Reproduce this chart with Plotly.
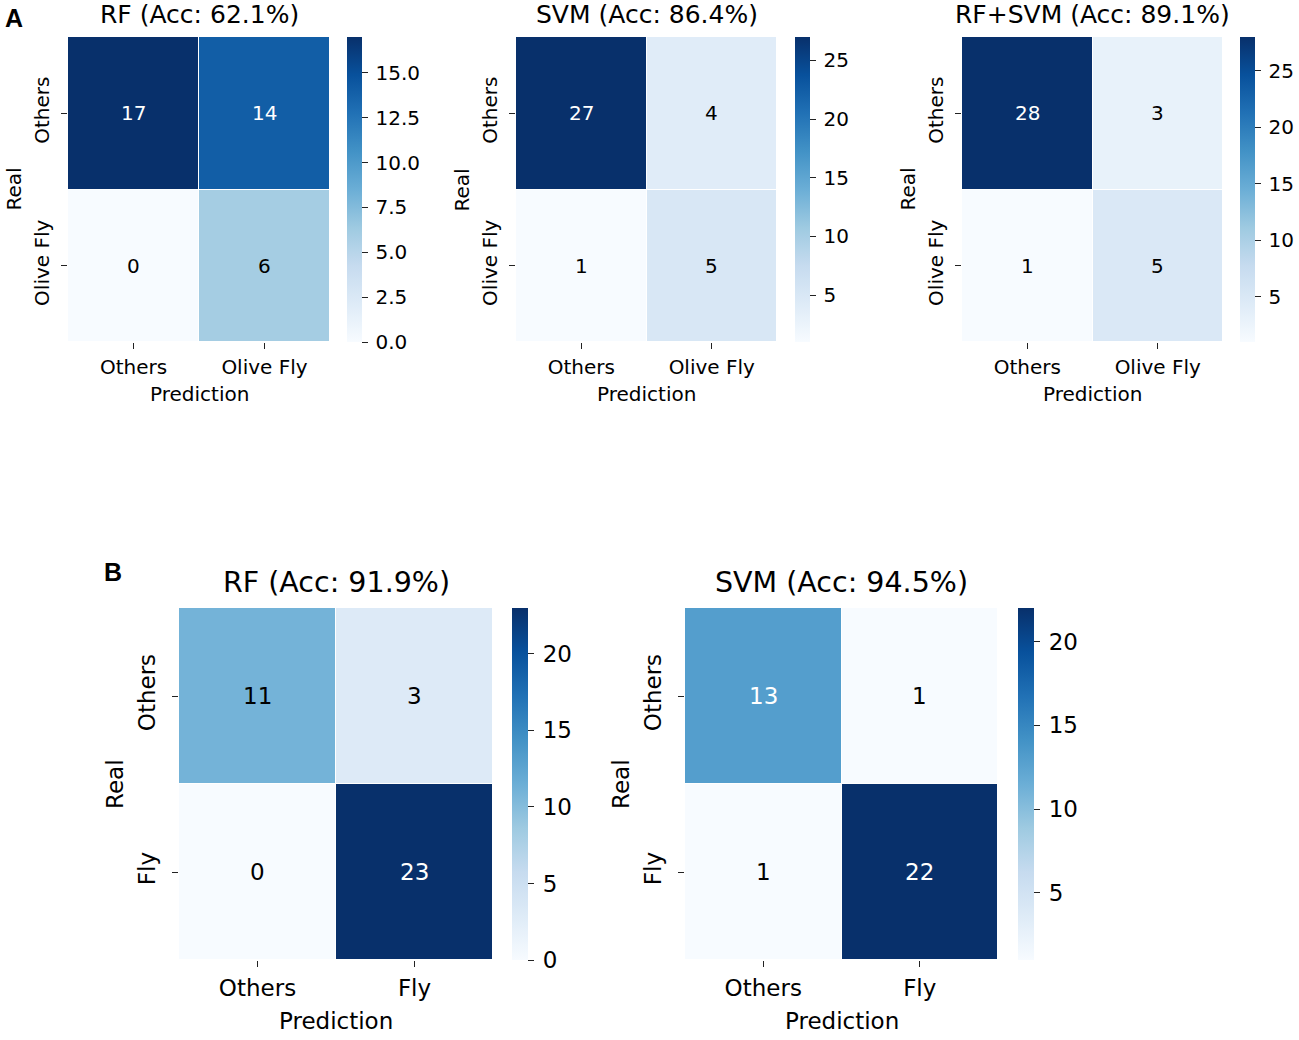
import plotly.graph_objects as go

W, H = 1299, 1040

# ---------------- data ----------------
labels_a = ["Others", "Olive Fly"]
labels_b = ["Others", "Fly"]

a_rf = [[17, 14], [0, 6]]
a_svm = [[27, 4], [1, 5]]
a_rfsvm = [[28, 3], [1, 5]]
b_rf = [[11, 3], [0, 23]]
b_svm = [[13, 1], [1, 22]]

titles = ["RF (Acc: 62.1%)", "SVM (Acc: 86.4%)", "RF+SVM (Acc: 89.1%)",
          "RF (Acc: 91.9%)", "SVM (Acc: 94.5%)"]
cb_dticks = [2.5, 5, 5, 5, 5]

blues = ['rgb(247,251,255)', 'rgb(222,235,247)', 'rgb(198,219,239)',
         'rgb(158,202,225)', 'rgb(107,174,214)', 'rgb(66,146,198)',
         'rgb(33,113,181)', 'rgb(8,81,156)', 'rgb(8,48,107)']
colorscale = [[i / (len(blues) - 1), c] for i, c in enumerate(blues)]

FONT = "DejaVu Sans"

# layout spec in window pixels: heatmap box, colorbar left/thickness, font sizes
panels = [
    dict(z=a_rf, lab=labels_a, x0=68, x1=330, y0=37, y1=342, cbx=347, cbw=15,
         fs=20, tfs=25, ty=15, realx=13, predy=394, cbfmt=".1f", ysoff=4),
    dict(z=a_svm, lab=labels_a, x0=516, x1=777, y0=37, y1=342, cbx=795, cbw=15,
         fs=20, tfs=25, ty=15, realx=461, predy=394, cbfmt="d", ysoff=4),
    dict(z=a_rfsvm, lab=labels_a, x0=962, x1=1223, y0=37, y1=342, cbx=1240, cbw=15,
         fs=20, tfs=25, ty=15, realx=907, predy=394, cbfmt="d", ysoff=4),
    dict(z=b_rf, lab=labels_b, x0=179, x1=493, y0=608, y1=960, cbx=512, cbw=16,
         fs=23, tfs=28.5, ty=582, realx=115, predy=1021, cbfmt="d", ysoff=8),
    dict(z=b_svm, lab=labels_b, x0=685, x1=998, y0=608, y1=960, cbx=1018, cbw=16,
         fs=23, tfs=28.5, ty=582, realx=621, predy=1021, cbfmt="d", ysoff=8),
]


def px(p):
    return p / W


def py(p):
    return 1 - p / H


fig = go.Figure()
annotations = []
layout = {}

for i, p in enumerate(panels):
    k = "" if i == 0 else str(i + 1)
    z = p["z"]
    zmin = min(min(r) for r in z)
    zmax = max(max(r) for r in z)
    fig.add_trace(go.Heatmap(
        z=z, x=p["lab"], y=p["lab"], xaxis="x" + k, yaxis="y" + k,
        colorscale=colorscale, zmin=zmin, zmax=zmax, xgap=1, ygap=1,
        hoverinfo="skip",
        colorbar=dict(
            x=px(p["cbx"]), xanchor="left", xref="paper",
            y=py((p["y0"] + p["y1"]) / 2), yanchor="middle", yref="paper",
            len=p["y1"] - p["y0"], lenmode="pixels",
            thickness=p["cbw"], thicknessmode="pixels",
            outlinewidth=0, ticks="outside", ticklen=6, tickwidth=1,
            tickcolor="#222", dtick=cb_dticks[i], tick0=0,
            tickformat=p["cbfmt"], tickprefix="\u2009", xpad=0, ypad=0,
            tickfont=dict(family=FONT, size=p["fs"], color="black"),
        ),
    ))
    common = dict(showgrid=False, zeroline=False, showline=False,
                  ticks="outside", ticklen=6, tickwidth=1.2, tickcolor="#222",
                  tickfont=dict(family=FONT, size=p["fs"], color="black"),
                  type="category", fixedrange=True)
    layout["xaxis" + k] = dict(domain=[px(p["x0"]), px(p["x1"])],
                               anchor="y" + k, ticklabelstandoff=1, **common)
    layout["yaxis" + k] = dict(domain=[py(p["y1"]), py(p["y0"])],
                               anchor="x" + k, autorange="reversed",
                               tickangle=-90, ticklabelstandoff=p["ysoff"], **common)
    # cell annotations
    for r, row in enumerate(z):
        for c, v in enumerate(row):
            t = (v - zmin) / (zmax - zmin)
            annotations.append(dict(
                x=p["lab"][c], y=p["lab"][r], xref="x" + k, yref="y" + k,
                text=str(v), showarrow=False,
                font=dict(family=FONT, size=p["fs"],
                          color="white" if t > 0.5 else "black")))
    cx = (p["x0"] + p["x1"]) / 2
    annotations.append(dict(x=px(cx), y=py(p["ty"]), xref="paper", yref="paper",
                            xanchor="center", yanchor="middle",
                            text=titles[i], showarrow=False,
                            font=dict(family=FONT, size=p["tfs"], color="black")))
    annotations.append(dict(x=px(cx), y=py(p["predy"]), xref="paper", yref="paper",
                            xanchor="center", yanchor="middle",
                            text="Prediction", showarrow=False,
                            font=dict(family=FONT, size=p["fs"], color="black")))
    annotations.append(dict(x=px(p["realx"]), y=py((p["y0"] + p["y1"]) / 2),
                            xref="paper", yref="paper", text="Real",
                            xanchor="center", yanchor="middle",
                            showarrow=False, textangle=-90,
                            font=dict(family=FONT, size=p["fs"], color="black")))

annotations.append(dict(x=px(14), y=py(18), xref="paper", yref="paper",
                        xanchor="center", yanchor="middle",
                        text="<b>A</b>", showarrow=False,
                        font=dict(family="Liberation Sans", size=25, color="black")))
annotations.append(dict(x=px(113), y=py(572), xref="paper", yref="paper",
                        xanchor="center", yanchor="middle",
                        text="<b>B</b>", showarrow=False,
                        font=dict(family="Liberation Sans", size=25, color="black")))

fig.update_layout(
    width=W, height=H, margin=dict(l=0, r=0, t=0, b=0, pad=0, autoexpand=False),
    paper_bgcolor="white", plot_bgcolor="white",
    annotations=annotations, **layout,
)

fig.write_html("out.html", config={"displayModeBar": False},
               post_script="document.body.style.margin='0';"
                           "document.body.style.overflow='hidden';")
